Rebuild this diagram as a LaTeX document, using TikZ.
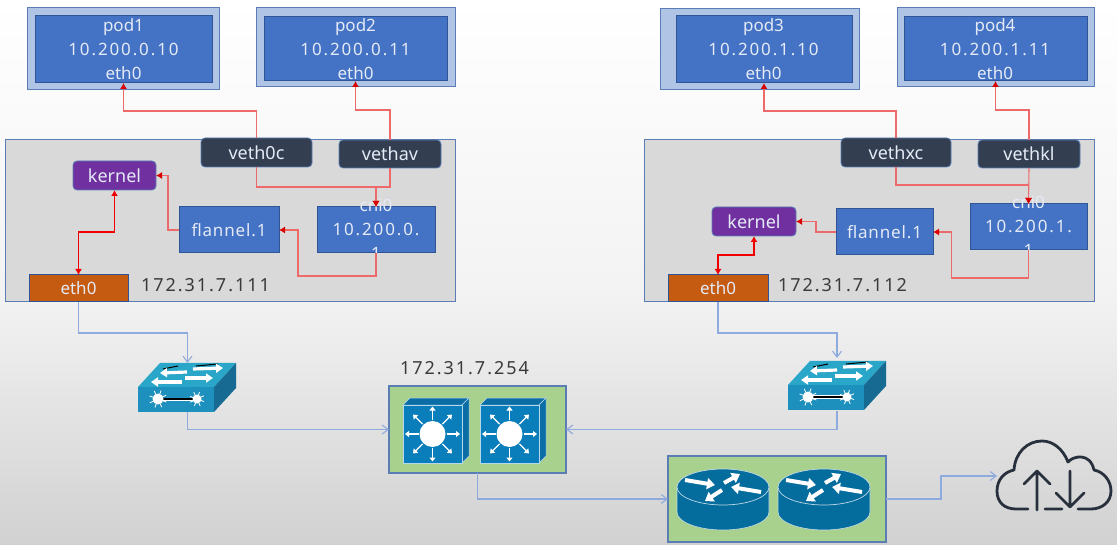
\documentclass[tikz,border=0pt]{standalone}
\usepackage{fontspec}
\setmainfont{Noto Sans}
\newfontfamily\numf[LetterSpace=11]{Noto Sans}
\newfontfamily\numg[LetterSpace=5]{Noto Sans}
\usetikzlibrary{arrows.meta}
\definecolor{podout}{HTML}{B0C4E6}
\definecolor{blueb}{HTML}{4472C4}
\definecolor{edgeb}{HTML}{5B7DB5}
\definecolor{inedge}{HTML}{2F5597}
\definecolor{host}{HTML}{D9D9D9}
\definecolor{slate}{HTML}{333F50}
\definecolor{purp}{HTML}{7030A0}
\definecolor{orng}{HTML}{C55A11}
\definecolor{grn}{HTML}{A9D18E}
\definecolor{txtl}{HTML}{E4EAF6}
\definecolor{txtd}{HTML}{3A3A3A}
\definecolor{redl}{HTML}{EE6A6A}
\definecolor{bluel}{HTML}{8FAADC}
\definecolor{cloudc}{HTML}{27303C}
\definecolor{swf}{HTML}{1E90BE}
\definecolor{swt}{HTML}{2AA6C8}
\definecolor{sws}{HTML}{176A92}
\definecolor{lf}{HTML}{0A7DBB}
\definecolor{lt}{HTML}{0A6DA5}
\definecolor{rtc}{HTML}{056C9E}
\tikzset{
  bx/.style={inner sep=0pt,outer sep=0pt,align=center,text=txtl,font=\fontsize{17}{24}\selectfont},
  podo/.style={bx,draw=edgeb,line width=1pt,fill=podout},
  podi/.style={bx,draw=inedge,line width=1pt,fill=blueb},
  vethbox/.style={bx,draw=edgeb,line width=.8pt,fill=slate,rounded corners=4pt,font=\fontsize{18}{24}\selectfont},
  kbox/.style={bx,draw=edgeb,line width=.8pt,fill=purp,rounded corners=4pt,font=\fontsize{18}{24}\selectfont},
  ethbox/.style={bx,draw=inedge,line width=1pt,fill=orng},
  hostbox/.style={bx,draw=edgeb,line width=1pt,fill=host},
  grnbox/.style={bx,draw=edgeb,line width=1.2pt,fill=grn},
  ghost/.style={inner sep=0pt,outer sep=0pt},
  addr/.style={inner sep=0pt,outer sep=0pt,text=txtd,font=\fontsize{18}{24}\selectfont\numf},
  redline/.style={draw=redl,line width=1.1pt,-{Latex[length=6pt,width=7pt,color=red!85!black]}},
  redthick/.style={draw=red!95!black,line width=1.7pt,{Latex[length=6pt,width=7pt]}-{Latex[length=6pt,width=7pt]}},
  blueline/.style={draw=bluel,line width=1.1pt,-{Straight Barb[length=6pt,width=9pt]}},
  whitearrow/.style={draw=white,line width=3.2pt,-{Triangle[length=7pt,width=9pt,fill=white]}},
  rarrow/.style={draw=white,line width=4pt,-{Triangle[length=8pt,width=11pt,fill=white]}},
  thinarrow/.style={draw=white,line width=1.4pt,-{Triangle[length=4pt,width=6pt,fill=white]}},
}
\newcommand\boxat[7]{\node[#1,minimum width={(#5-#3)*1pt},minimum height={(#6-#4)*1pt}] (#2) at ({(#3+#5)/2},{(#4+#6)/2}) {#7};}
\newcommand\switchicon[2]{%
 \begin{scope}[shift={(#1,#2)}]
  \fill[swt] (0,24)--(22,0)--(98,0)--(76,24)--cycle;
  \fill[sws] (76,24)--(98,0)--(98,25)--(76,49)--cycle;
  \fill[swf] (0,24) rectangle (76,49);
  \draw[black,line width=1pt] (58,3)--(80,1) (25,6)--(40,3);
  \draw[whitearrow] (49,9)--(22,10);
  \draw[whitearrow] (55,6)--(85,5);
  \draw[whitearrow] (44,19)--(13,19);
  \draw[whitearrow] (47,15)--(75,15);
  \draw[white,line width=3pt] (20,36)--(59,36);
  \draw[black,line width=1.1pt] (20,36)--(59,36);
  \fill[white] (20,36) circle (5.5) (59,36) circle (4.5);
  \foreach \a in {0,45,...,315}{
   \draw[white,line width=.8pt] (20,36)++(\a+20:5)--++(\a+20:4);
   \draw[white,line width=.8pt] (59,36)++(\a+20:4)--++(\a+20:3.5);}
 \end{scope}}
\newcommand\lthree[2]{%
 \begin{scope}[shift={(#1,#2)}]
  \fill[lt,draw=white!70!lf,line width=.5pt] (0,7)--(7,0)--(66,0)--(59,7)--cycle;
  \fill[lt,draw=white!70!lf,line width=.5pt] (59,7)--(66,0)--(66,58)--(59,65)--cycle;
  \fill[lf,draw=white!70!lf,line width=.5pt] (0,7) rectangle (59,65);
  \foreach \a in {0,45,...,315}{\draw[thinarrow] (29.5,36)++(\a:14)--++(\a:13.5);}
  \fill[white] (29.5,36) circle (13);
 \end{scope}}
\newcommand\routericon[2]{%
 \begin{scope}[shift={(#1,#2)}]
  \fill[rtc,draw=white!75!rtc,line width=.6pt] (-46,0)--(-46,25) .. controls (-46,35) and (-25,43) .. (0,43) .. controls (25,43) and (46,35) .. (46,25)--(46,0)--cycle;
  \fill[rtc,draw=white!75!rtc,line width=.7pt] (0,0) ellipse[x radius=46,y radius=18];
  \draw[rarrow] (-38,-7)--(-8,-2);
  \draw[rarrow] (1,-4)--(17,-13);
  \draw[rarrow] (38,5)--(8,0);
  \draw[rarrow] (-1,3)--(-18,14);
 \end{scope}}
\begin{document}
\begin{tikzpicture}[x=1pt,y=-1pt]
\useasboundingbox (0,0) rectangle (1117,545);
\fill[top color=white,bottom color=white!95!black] (0,0) rectangle (1117,300);
\fill[top color=white!95!black,bottom color=white!82!black] (0,300) rectangle (1117,545);
% pods
\boxat{podo}{p1o}{27}{8}{219}{90}{}
\boxat{podi}{p1}{35}{16}{212}{83}{}
\boxat{podo}{p2o}{256}{8}{455}{87}{}
\boxat{podi}{p2}{264}{17}{447}{81}{}
\boxat{podo}{p3o}{660}{9}{859}{90}{}
\boxat{podi}{p3}{676}{16}{852}{83}{}
\boxat{podo}{p4o}{897}{8}{1094}{87}{}
\boxat{podi}{p4}{904}{17}{1087}{81}{}
\node[bx] (t1) at (123.5,49.5) {pod1\\{\numf 10.200.0.10}\\eth0};
\node[bx] (t2) at (355.5,49.5) {pod2\\{\numf 10.200.0.11}\\eth0};
\node[bx] (t3) at (763.5,49.5) {pod3\\{\numf 10.200.1.10}\\eth0};
\node[bx] (t4) at (995,49.5) {pod4\\{\numf 10.200.1.11}\\eth0};
% hosts
\boxat{hostbox}{h1}{5}{140}{455}{302}{}
\boxat{hostbox}{h2}{644}{140}{1094}{302}{}
\boxat{vethbox}{va}{201}{138}{312}{167}{veth0c}
\boxat{vethbox}{vb}{339}{140}{441}{168}{vethav}
\boxat{vethbox}{vc}{841}{138}{951}{167}{vethxc}
\boxat{vethbox}{vd}{978}{140}{1080}{168}{vethkl}
\boxat{kbox}{ka}{73}{161}{156}{190}{kernel}
\boxat{kbox}{kb}{712}{207}{796}{236}{kernel}
\boxat{podi}{fa}{179}{207}{279}{253}{{\numg flannel.1}}
\boxat{podi}{fb}{836}{209}{933}{255}{{\numg flannel.1}}
\boxat{podi}{ca}{317}{207}{435}{253}{}
\boxat{podi}{cb}{970}{204}{1087}{250}{}
\node[bx] (t5) at (376,229) {cni0\\{\numf 10.200.0.}\\1};
\node[bx] (t6) at (1028.5,226) {cni0\\{\numf 10.200.1.}\\1};
\boxat{ethbox}{ea}{29}{275}{128}{302}{eth0}
\boxat{ethbox}{eb}{668}{275}{768}{302}{eth0}
\node[addr,anchor=west] (ipa) at (141,285) {172.31.7.111};
\node[addr,anchor=west] (ipb) at (778,285) {172.31.7.112};
\node[addr,anchor=west] (ipc) at (400,368) {172.31.7.254};
% green boxes
\boxat{grnbox}{ga}{389}{386}{566}{473}{}
\boxat{grnbox}{gb}{668}{456}{886}{542}{}
% icons
\switchicon{138}{363}
\switchicon{788}{361}
\lthree{403}{398}
\lthree{480}{398}
\routericon{723}{487}
\routericon{824}{487}
\boxat{ghost}{sa}{138}{363}{237}{412}{}
\boxat{ghost}{sb}{788}{358}{886}{411}{}
\boxat{ghost}{cloud}{997}{441}{1111}{511}{}
% cloud
\draw[cloudc,line width=2.8pt,line cap=round,line join=round]
 (1028,509)--(1016,509) .. controls (1004,509) and (997,502) .. (997,491)
 .. controls (997,480) and (1004,472) .. (1014,470)
 .. controls (1015,453) and (1027,441) .. (1042,441)
 .. controls (1053,441) and (1063,449) .. (1068,462)
 .. controls (1073,456) and (1090,452) .. (1094,470)
 .. controls (1104,472) and (1111,481) .. (1111,491)
 .. controls (1111,502) and (1102,509) .. (1091,509)--(1078,509);
\draw[cloudc,line width=2.8pt,line cap=round,line join=round]
 (1037,510)--(1037,471) (1024,484)--(1037,471)--(1050,484)
 (1070,471)--(1070,507) (1056,493)--(1070,507)--(1084,493)
 (1045,509)--(1062,509);
% red connectors
\draw[redline] (va.north)--++(0,-27)-|(p1.south);
\draw[redline] (vb.north)--++(0,-30)-|(p2.south);
\draw[redline] (vc.north)--++(0,-27)-|(p3.south);
\draw[redline] (vd.north)--++(0,-30)-|(p4.south);
\draw[redline] (va.south)--++(0,20)-|(ca.north);
\draw[redline] (vb.south)--++(0,19)-|(ca.north);
\draw[redline] (vc.south)--++(0,18)-|(cb.north);
\draw[redline] (vd.south)--(cb.north);
\draw[redline] (ca.south)--++(0,23)--++(-78,0)|-(fa.east);
\draw[redline] (cb.south)--++(0,28)--++(-77,0)|-(fb.east);
\draw[redline] (fa.west)--++(-11,0)|-(ka.east);
\draw[redline] (fb.west)--++(-20,0)|-(kb.east);
\draw[redthick] (ka.south)--++(0,42)-|(ea.north);
\draw[redthick] (kb.south)--++(0,19)-|(eb.north);
% blue connectors
\draw[blueline] (ea.south)--++(0,31)-|(sa.north);
\draw[blueline] (eb.south)--++(0,31)-|(sb.north);
\draw[blueline] (sa.south)|-(ga.west);
\draw[blueline] (sb.south)|-(ga.east);
\draw[blueline] (ga.south)|-(gb.west);
\draw[blueline] (gb.east)--++(55,0)|-(cloud.west);
\end{tikzpicture}
\end{document}
